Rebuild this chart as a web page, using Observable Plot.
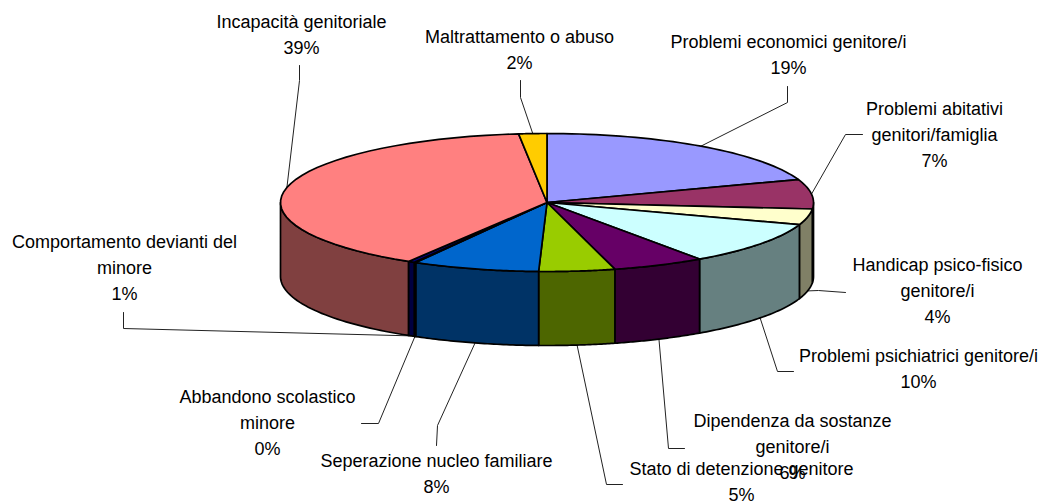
<!DOCTYPE html>
<html>
<head>
<meta charset="utf-8">
<style>html,body{margin:0;padding:0;background:#fff}</style>
<script src="https://cdn.jsdelivr.net/npm/d3@7"></script>
<script src="https://cdn.jsdelivr.net/npm/@observablehq/plot@0.6"></script>
</head>
<body>
<script>
const categories = ["Problemi economici genitore/i","Problemi abitativi\ngenitori/famiglia","Handicap psico-fisico\ngenitore/i","Problemi psichiatrici genitore/i","Dipendenza da sostanze\ngenitore/i","Stato di detenzione genitore","Seperazione nucleo familiare","Abbandono scolastico\nminore","Comportamento devianti del\nminore","Incapacità genitoriale","Maltrattamento o abuso"];
const shares = [19.6,6.9,3.7,10.1,5.6,4.6,7.7,0.1,0.4,39.6,1.7];
const shownPercent = ["19%","7%","4%","10%","6%","5%","8%","0%","1%","39%","2%"];
const topColors = ["#9999FF","#993366","#FFFFCC","#CCFFFF","#660066","#99CC00","#0066CC","#000080","#000080","#FF8080","#FFCC00"];
const sideColors = ["#4D4D80","#000000","#808066","#668080","#330033","#4D6600","#003366","#000040","#000040","#804040","#806600"];
const labelCenterX = [788,934,937,918,792,741,436,267,124,301,519];
const labelCenterY = [52,132,288,366,444,479,471,420,265,32,47];
const elbows = [[[787,102],[787,86]],[[845,134],[862,134]],[[818,290],[845,292]],[[777,371],[793,371]],[[668,448],[684,448]],[[606,484],[622,484]],[[437,425],[436,445]],[[378,423],[361,423]],[[123,328],[123,312]],[[299,80],[299,65]],[[520,97],[520,80]]];

const cx = 546.5, cy = 202, rx = 266.5, ry = 69, depth = 74;
const point = (t, drop = 0) => ({x: cx + rx * Math.sin(t), y: cy - ry * Math.cos(t) + drop});
const arcs = d3.pie().sort(null).value(d => d)(shares);
const arcPoints = (a, b, drop = 0) => d3.range(0, 41).map(i => point(a + (b - a) * i / 40, drop));

const sideMarks = [], topMarks = [], leaderMarks = [];
arcs.forEach((arc, i) => {
  const a = Math.max(arc.startAngle, Math.PI / 2), b = Math.min(arc.endAngle, 3 * Math.PI / 2);
  if (b > a) {
    const side = [...arcPoints(a, b), ...arcPoints(b, a, depth)];
    side.push(side[0]);
    sideMarks.push(Plot.line(side, {x: "x", y: "y", fill: sideColors[i], stroke: "#000", strokeWidth: 1.7}));
  }
  const wedge = [{x: cx, y: cy}, ...arcPoints(arc.startAngle, arc.endAngle), {x: cx, y: cy}];
  topMarks.push(Plot.line(wedge, {x: "x", y: "y", fill: topColors[i], stroke: "#000", strokeWidth: 1.7}));
  const mid = (arc.startAngle + arc.endAngle) / 2;
  const onFront = Math.cos(mid) < 0;
  const start = point(mid, onFront ? depth : 0);
  const path = [start, ...elbows[i].map(([x, y]) => ({x, y}))];
  leaderMarks.push(Plot.line(path, {x: "x", y: "y", stroke: "#222", strokeWidth: 1}));
});

const labels = categories.map((c, i) => ({text: c + "\n" + shownPercent[i], x: labelCenterX[i], y: labelCenterY[i]}));

const chart = Plot.plot({
  width: 1042, height: 502,
  margin: 0,
  x: {type: "linear", domain: [0, 1042], range: [0, 1042], axis: null},
  y: {type: "linear", domain: [0, 502], range: [0, 502], axis: null},
  style: {background: "#fff", fontFamily: "'Liberation Sans', Arial, sans-serif"},
  marks: [
    ...leaderMarks,
    ...sideMarks,
    ...topMarks,
    Plot.text(labels, {x: "x", y: "y", text: "text", fontSize: 18, lineHeight: 1.444, fill: "#000", textAnchor: "middle"})
  ]
});
document.body.appendChild(chart);
</script>
</body>
</html>
